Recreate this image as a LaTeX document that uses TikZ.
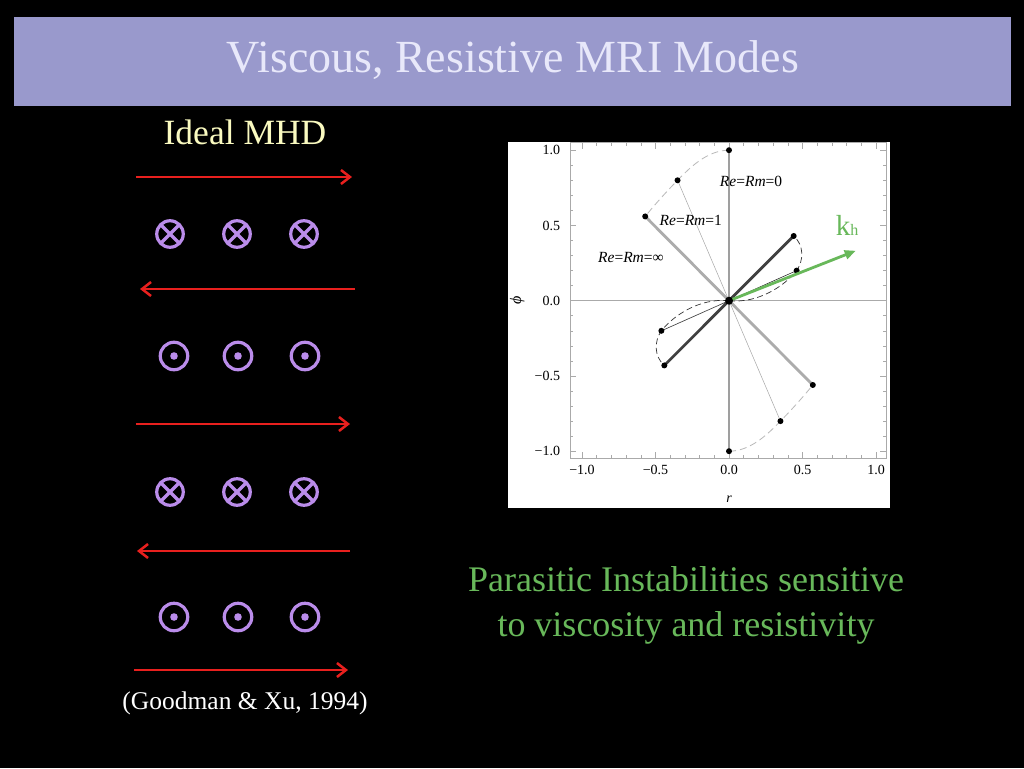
\documentclass[tikz,border=0pt]{standalone}
\usepackage{fontspec}
\setmainfont{Liberation Serif}
\usetikzlibrary{arrows.meta}

\definecolor{titlebar}{RGB}{153,153,204}
\definecolor{titletext}{RGB}{232,232,250}
\definecolor{mhdyellow}{RGB}{250,250,192}
\definecolor{fieldred}{RGB}{232,32,30}
\definecolor{curpurple}{RGB}{186,140,234}
\definecolor{kgreen}{RGB}{104,184,90}
\definecolor{axisgray}{RGB}{170,170,170}

\tikzset{
  fieldline/.style={draw=fieldred, line width=2.5pt,
    -{Straight Barb[length=9pt,width=14pt]}},
  curin/.style={circle, draw=curpurple, line width=3.2pt, minimum size=26.5pt,
    inner sep=0pt,
    path picture={\draw[curpurple,line width=3.2pt]
      (path picture bounding box.south west) -- (path picture bounding box.north east)
      (path picture bounding box.north west) -- (path picture bounding box.south east);}},
  curout/.style={circle, draw=curpurple, line width=3.2pt, minimum size=27.5pt,
    inner sep=0pt,
    path picture={\fill[curpurple] (path picture bounding box.center) circle (3.8pt);}},
  ptdot/.style={circle, fill=black, inner sep=0pt, minimum size=6pt},
  ticklab/.style={inner sep=0pt, font=\fontsize{14}{15}\selectfont},
  relab/.style={inner sep=0pt, font=\fontsize{15.5}{16}\selectfont},
}

\begin{document}
\begin{tikzpicture}[x=1pt,y=-1pt]
  \useasboundingbox (0,0) rectangle (1024,768);
  \fill[black] (0,0) rectangle (1024,768);

  %%%%%%%%%%%%%%%%%%%%%%%%%%%%%%%%%%%%%%%%%%%%%%%%%%%%%%%%%%%%%%%%%%%%%%%%%%%
  %%%%  Title
  \fill[titlebar] (14,17) rectangle (1011,106);
  \node[text=titletext, font=\fontsize{46}{50}\selectfont] (title) at (513,60)
    {Viscous, Resistive MRI Modes};

  %%%%%%%%%%%%%%%%%%%%%%%%%%%%%%%%%%%%%%%%%%%%%%%%%%%%%%%%%%%%%%%%%%%%%%%%%%%
  %%%%  Ideal MHD field lines and currents
  \node[text=mhdyellow, font=\fontsize{35.5}{40}\selectfont] (ideal) at (245,132) {Ideal MHD};

  \foreach \n/\xa/\xb/\y in {1/136/352/177, 2/355/140/289, 3/136/350/424,
                             4/350/137/551, 5/134/348/670}
   {\coordinate (fa\n) at (\xa,\y);
    \coordinate (fb\n) at (\xb,\y);
    \draw[fieldline] (fa\n) -- (fb\n);
   };

  \foreach \r/\y in {1/234, 3/492}
   {\foreach \c/\x in {1/170,2/237,3/304}
     {\node[curin] (in\r\c) at (\x,\y) {};}};
  \foreach \r/\y in {2/356, 4/617}
   {\foreach \c/\x in {1/174,2/238,3/305}
     {\node[curout] (out\r\c) at (\x,\y) {};}};

  \node[text=white, font=\fontsize{25.5}{28}\selectfont] (cite) at (245,703)
    {(Goodman \& Xu, 1994)};

  %%%%%%%%%%%%%%%%%%%%%%%%%%%%%%%%%%%%%%%%%%%%%%%%%%%%%%%%%%%%%%%%%%%%%%%%%%%
  %%%%  Parasitic text
  \node[text=kgreen, font=\fontsize{36}{45}\selectfont, align=center] (parasitic) at (686,605)
    {Parasitic Instabilities sensitive\\ to viscosity and resistivity};

  %%%%%%%%%%%%%%%%%%%%%%%%%%%%%%%%%%%%%%%%%%%%%%%%%%%%%%%%%%%%%%%%%%%%%%%%%%%
  %%%%  Plot of the mode orientations
  \fill[white] (508,142) rectangle (890,508);
  \begin{scope}[shift={(729,300.7)}, x=147pt, y=150.5pt]
    \draw[axisgray, line width=0.9pt] (-1.08,0) -- (1.07,0);
    \draw[axisgray, line width=0.9pt] (0,-1.045) -- (0,1.05);
    \draw[axisgray, line width=0.6pt] (-1.08,-1.045) rectangle (1.07,1.05);

    % frame ticks
    \foreach \t in {-10,...,10}
     {\pgfmathsetmacro\len{ifthenelse(mod(\t,5)==0,6,3)}
      \draw[axisgray, line width=0.6pt] (\t/10,-1.045) -- ++(0,\len pt);
      \draw[axisgray, line width=0.6pt] (\t/10,1.05) -- ++(0,-\len pt);
      \draw[axisgray, line width=0.6pt] (-1.08,\t/10) -- ++(\len pt,0);
      \draw[axisgray, line width=0.6pt] (1.07,\t/10) -- ++(-\len pt,0);
     };
    \foreach \t/\lab in {-1/−1.0,-0.5/−0.5,0/0.0,0.5/0.5,1/1.0}
     {\node[ticklab, anchor=north] (xt\t) at (\t,-1.045) [yshift=-7pt] {\lab};
      \node[ticklab, anchor=east] (yt\t) at (-1.08,\t) [xshift=-10pt] {\lab};
     };
    \node[ticklab] (rlab) at (0,-1.32) {\textit{r}};
    \node[ticklab, rotate=90, font=\fontsize{16}{16}\selectfont] (philab) at (-1.44,0) {\textit{ϕ}};

    % end points of the modes
    \coordinate (o) at (0,0);
    \coordinate (z1) at (0,1);       \coordinate (z2) at (0,-1);
    \coordinate (a1) at (-0.35,0.8); \coordinate (a2) at (0.35,-0.8);
    \coordinate (b1) at (-0.57,0.56); \coordinate (b2) at (0.57,-0.56);
    \coordinate (c1) at (-0.44,-0.43); \coordinate (c2) at (0.44,0.43);
    \coordinate (d1) at (-0.46,-0.2); \coordinate (d2) at (0.46,0.2);

    \draw[gray!75, line width=1.2pt] (z1) -- (z2);
    \draw[gray!70, line width=0.5pt] (a1) -- (a2);
    \draw[gray!65, line width=2.8pt] (b1) -- (b2);
    \draw[black!75, line width=2.8pt] (c1) -- (c2);
    \draw[black!80, line width=0.6pt] (d1) -- (d2);

    \draw[gray!55, dash pattern=on 7pt off 4pt, line width=0.8pt]
      (z1) .. controls (-0.15,1.0) and (-0.27,0.88) .. (a1)
           .. controls (-0.45,0.7) and (-0.52,0.62) .. (b1);
    \draw[gray!55, dash pattern=on 7pt off 4pt, line width=0.8pt]
      (z2) .. controls (0.15,-1.0) and (0.27,-0.88) .. (a2)
           .. controls (0.45,-0.7) and (0.52,-0.62) .. (b2);
    \draw[black!80, dash pattern=on 6pt off 3.5pt, line width=0.7pt]
      (o) .. controls (-0.2,0.02) and (-0.38,-0.1) .. (d1)
          .. controls (-0.51,-0.27) and (-0.51,-0.37) .. (c1);
    \draw[black!80, dash pattern=on 6pt off 3.5pt, line width=0.7pt]
      (o) .. controls (0.2,-0.02) and (0.38,0.1) .. (d2)
          .. controls (0.51,0.27) and (0.51,0.37) .. (c2);

    \foreach \p in {z1,z2,a1,a2,b1,b2,c1,c2,d1,d2}
     {\node[ptdot] (dot-\p) at (\p) {};};

    % wave vector
    \coordinate (ktip) at (0.862,0.332);
    \draw[kgreen, line width=2.8pt, -{Triangle[length=11pt,width=9pt]}] (o) -- (ktip);
    \node[ptdot, minimum size=8pt] (dot-o) at (o) {};
    \node[text=kgreen, inner sep=0pt, font=\fontsize{29}{30}\selectfont, anchor=base west]
      (kh) at (0.725,0.43) {k{\fontsize{16}{16}\selectfont h}};

    \node[relab] (lab0) at (0.15,0.79) {\textit{Re}=\textit{Rm}=0};
    \node[relab] (lab1) at (-0.26,0.536) {\textit{Re}=\textit{Rm}=1};
    \node[relab] (labinf) at (-0.667,0.29) {\textit{Re}=\textit{Rm}=∞};
  \end{scope}
\end{tikzpicture}
\end{document}
